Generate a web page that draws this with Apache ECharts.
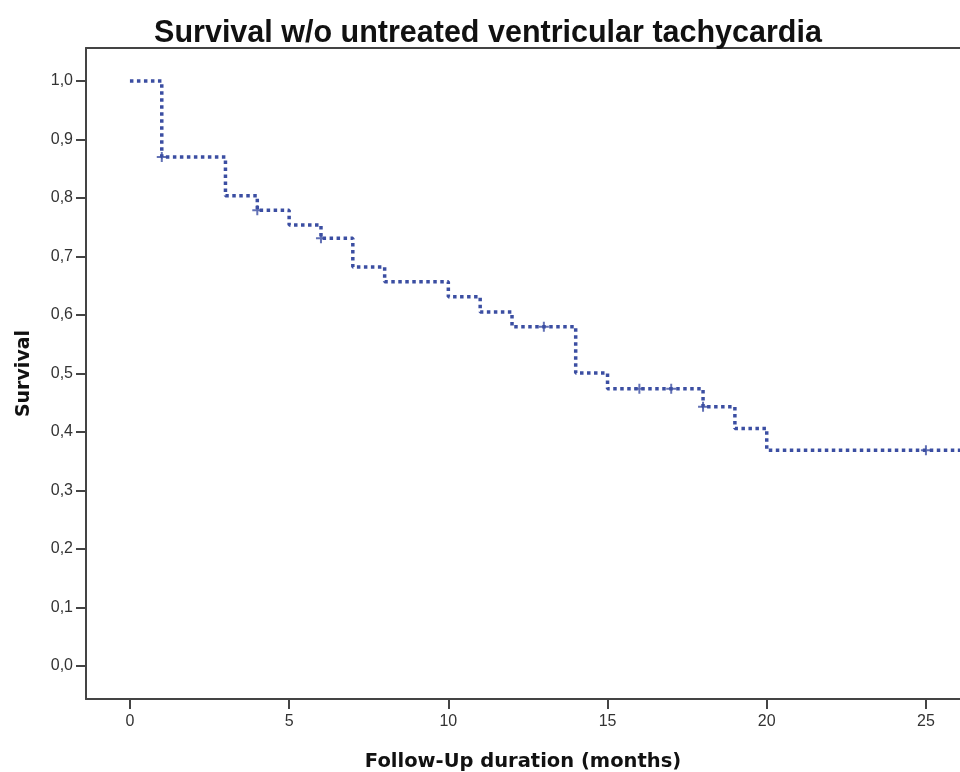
<!DOCTYPE html>
<html>
<head>
<meta charset="utf-8">
<script src="https://cdn.jsdelivr.net/npm/echarts@6/dist/echarts.min.js"></script>
<style>
  html, body { margin: 0; padding: 0; background: #fff; }
  #chart { width: 960px; height: 772px; }
</style>
</head>
<body>
<div id="chart"></div>
<script>
// Kaplan-Meier steps: time (months) and survival after each step
const stepTimes    = [0, 1, 3, 4, 5, 6, 7, 8, 10, 11, 12, 14, 15, 18, 19, 20, 26.1];
const stepSurvival = [1.0, 0.870, 0.804, 0.779, 0.754, 0.731, 0.682, 0.657, 0.631, 0.605, 0.580, 0.501, 0.474, 0.443, 0.406, 0.369, 0.369];

// censored observations
const censorTimes    = [1, 4, 6, 13, 16, 17, 18, 25];
const censorSurvival = [0.870, 0.779, 0.731, 0.580, 0.474, 0.474, 0.443, 0.369];

const xTicks = [0, 5, 10, 15, 20, 25];
const yTicks = [0, 0.1, 0.2, 0.3, 0.4, 0.5, 0.6, 0.7, 0.8, 0.9, 1.0];

const lineColor = '#3b4ea2';
const axisColor = '#444';

const chart = echarts.init(document.getElementById('chart'));

const kmData = stepTimes.map((t, i) => [t, stepSurvival[i]]);
const censorData = censorTimes.map((t, i) => [t, censorSurvival[i]]);

const xMin = -1.38, xMax = 26.07;

chart.setOption({
  backgroundColor: '#fff',
  animation: false,
  title: {
    text: 'Survival w/o untreated ventricular tachycardia',
    left: 483, top: 13, textAlign: 'center',
    textStyle: { fontFamily: 'Liberation Sans, Arial', fontWeight: 'bold', fontSize: 30.5, color: '#111' },
  },
  grid: { left: 86, top: 48, right: 0, bottom: 73, containLabel: false, outerBoundsMode: 'none' },
  xAxis: [
    {
      type: 'value',
      min: xMin, max: xMax,
      name: 'Follow-Up duration (months)',
      nameLocation: 'middle', nameGap: 53,
      nameTextStyle: { fontFamily: 'DejaVu Sans', fontWeight: 'bold', fontSize: 19.5, color: '#111' },
      splitLine: { show: false },
      axisLine: { show: true, onZero: false, lineStyle: { color: axisColor, width: 2 } },
      axisTick: { show: true, inside: false, length: 10, customValues: xTicks, lineStyle: { color: axisColor, width: 2 } },
      axisLabel: {
        customValues: xTicks, margin: 15,
        fontFamily: 'Liberation Sans, Arial', fontSize: 16, color: '#333',
      },
    },
    {
      // top frame line only
      type: 'value', position: 'top',
      min: xMin, max: xMax,
      splitLine: { show: false },
      axisLine: { show: true, onZero: false, lineStyle: { color: axisColor, width: 2 } },
      axisTick: { show: false },
      axisLabel: { show: false },
    },
  ],
  yAxis: {
    type: 'value',
    min: -0.0564, max: 1.0564,
    name: 'Survival',
    nameLocation: 'middle', nameGap: 52, nameRotate: 90,
    nameTextStyle: { fontFamily: 'DejaVu Sans', fontWeight: 'bold', fontSize: 19, color: '#111' },
    splitLine: { show: false },
    axisLine: { show: true, onZero: false, lineStyle: { color: axisColor, width: 2 } },
    axisTick: { show: true, inside: false, length: 10, customValues: yTicks, lineStyle: { color: axisColor, width: 2 } },
    axisLabel: {
      customValues: yTicks, margin: 13,
      fontFamily: 'Liberation Sans, Arial', fontSize: 16, color: '#333',
      formatter: v => v.toFixed(1).replace('.', ','),
    },
  },
  series: [
    {
      type: 'line',
      step: 'end',
      data: kmData,
      symbol: 'none',
      lineStyle: { color: lineColor, width: 3.5, type: [3.5, 3.5] },
    },
    {
      type: 'scatter',
      data: censorData,
      symbol: 'path://M4,0H6V4H10V6H6V10H4V6H0V4H4Z',
      symbolSize: 10,
      itemStyle: { color: lineColor },
    },
  ],
});
</script>
</body>
</html>
